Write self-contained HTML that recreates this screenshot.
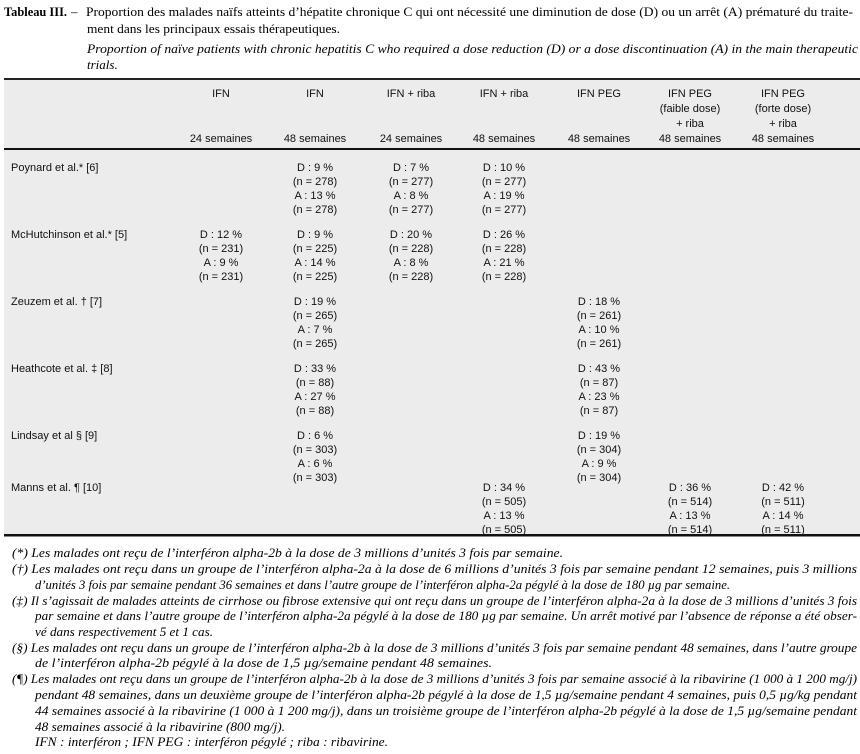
<!DOCTYPE html>
<html><head><meta charset="utf-8"><style>
html,body{margin:0;padding:0;background:#fff;}
svg{display:block;}
.t{font-family:"Liberation Serif",serif;font-size:13px;fill:#000;}
.i{font-family:"Liberation Serif",serif;font-style:italic;font-size:13px;fill:#000;}
.s{font-family:"Liberation Sans",sans-serif;font-size:11px;fill:#111;}
.c{text-anchor:middle;}
</style></head><body>
<svg width="860" height="754" viewBox="0 0 860 754" xmlns="http://www.w3.org/2000/svg">
<text class="t" x="4" y="16" font-weight="bold" textLength="63" lengthAdjust="spacingAndGlyphs">Tableau III.</text>
<text class="t" x="71" y="16">–</text>
<text class="t" x="86" y="16" textLength="767" lengthAdjust="spacingAndGlyphs">Proportion des malades naïfs atteints d’hépatite chronique C qui ont nécessité une diminution de dose (D) ou un arrêt (A) prématuré du traite-</text>
<text class="t" x="87" y="33" textLength="253" lengthAdjust="spacingAndGlyphs">ment dans les principaux essais thérapeutiques.</text>
<text class="i" x="87" y="53" textLength="771" lengthAdjust="spacingAndGlyphs">Proportion of naïve patients with chronic hepatitis C who required a dose reduction (D) or a dose discontinuation (A) in the main therapeutic</text>
<text class="i" x="87" y="69">trials.</text>

<rect x="4" y="80" width="856" height="456" fill="#ececec"/>
<rect x="4" y="78" width="856" height="2" fill="#222"/>
<rect x="4" y="148" width="856" height="2" fill="#111"/>
<rect x="4" y="534" width="856" height="2.5" fill="#111"/>

<g class="s c">
<text x="221" y="97">IFN</text><text x="221" y="142">24 semaines</text>
<text x="315" y="97">IFN</text><text x="315" y="142">48 semaines</text>
<text x="411" y="97">IFN + riba</text><text x="411" y="142">24 semaines</text>
<text x="504" y="97">IFN + riba</text><text x="504" y="142">48 semaines</text>
<text x="599" y="97">IFN PEG</text><text x="599" y="142">48 semaines</text>
<text x="690" y="97">IFN PEG</text><text x="690" y="112">(faible dose)</text><text x="690" y="127">+ riba</text><text x="690" y="142">48 semaines</text>
<text x="783" y="97">IFN PEG</text><text x="783" y="112">(forte dose)</text><text x="783" y="127">+ riba</text><text x="783" y="142">48 semaines</text>
</g>

<g class="s">
<text x="11" y="171">Poynard et al.* [6]</text>
<text x="11" y="238">McHutchinson et al.* [5]</text>
<text x="11" y="305">Zeuzem et al. † [7]</text>
<text x="11" y="372">Heathcote et al. ‡ [8]</text>
<text x="11" y="439">Lindsay et al § [9]</text>
<text x="11" y="491">Manns et al. ¶ [10]</text>
</g>

<g class="s c">
<text x="315" y="171">D : 9 %</text><text x="315" y="185">(n = 278)</text><text x="315" y="199">A : 13 %</text><text x="315" y="213">(n = 278)</text>
<text x="411" y="171">D : 7 %</text><text x="411" y="185">(n = 277)</text><text x="411" y="199">A : 8 %</text><text x="411" y="213">(n = 277)</text>
<text x="504" y="171">D : 10 %</text><text x="504" y="185">(n = 277)</text><text x="504" y="199">A : 19 %</text><text x="504" y="213">(n = 277)</text>
<text x="221" y="238">D : 12 %</text><text x="221" y="252">(n = 231)</text><text x="221" y="266">A : 9 %</text><text x="221" y="280">(n = 231)</text>
<text x="315" y="238">D : 9 %</text><text x="315" y="252">(n = 225)</text><text x="315" y="266">A : 14 %</text><text x="315" y="280">(n = 225)</text>
<text x="411" y="238">D : 20 %</text><text x="411" y="252">(n = 228)</text><text x="411" y="266">A : 8 %</text><text x="411" y="280">(n = 228)</text>
<text x="504" y="238">D : 26 %</text><text x="504" y="252">(n = 228)</text><text x="504" y="266">A : 21 %</text><text x="504" y="280">(n = 228)</text>
<text x="315" y="305">D : 19 %</text><text x="315" y="319">(n = 265)</text><text x="315" y="333">A : 7 %</text><text x="315" y="347">(n = 265)</text>
<text x="599" y="305">D : 18 %</text><text x="599" y="319">(n = 261)</text><text x="599" y="333">A : 10 %</text><text x="599" y="347">(n = 261)</text>
<text x="315" y="372">D : 33 %</text><text x="315" y="386">(n = 88)</text><text x="315" y="400">A : 27 %</text><text x="315" y="414">(n = 88)</text>
<text x="599" y="372">D : 43 %</text><text x="599" y="386">(n = 87)</text><text x="599" y="400">A : 23 %</text><text x="599" y="414">(n = 87)</text>
<text x="315" y="439">D : 6 %</text><text x="315" y="453">(n = 303)</text><text x="315" y="467">A : 6 %</text><text x="315" y="481">(n = 303)</text>
<text x="599" y="439">D : 19 %</text><text x="599" y="453">(n = 304)</text><text x="599" y="467">A : 9 %</text><text x="599" y="481">(n = 304)</text>
<text x="504" y="491">D : 34 %</text><text x="504" y="505">(n = 505)</text><text x="504" y="519">A : 13 %</text><text x="504" y="533">(n = 505)</text>
<text x="690" y="491">D : 36 %</text><text x="690" y="505">(n = 514)</text><text x="690" y="519">A : 13 %</text><text x="690" y="533">(n = 514)</text>
<text x="783" y="491">D : 42 %</text><text x="783" y="505">(n = 511)</text><text x="783" y="519">A : 14 %</text><text x="783" y="533">(n = 511)</text>
</g>

<g class="i">
<text x="12" y="557" textLength="551" lengthAdjust="spacingAndGlyphs">(*) Les malades ont reçu de l’interféron alpha-2b à la dose de 3 millions d’unités 3 fois par semaine.</text>
<text x="12" y="573" textLength="845" lengthAdjust="spacingAndGlyphs">(†) Les malades ont reçu dans un groupe de l’interféron alpha-2a à la dose de 6 millions d’unités 3 fois par semaine pendant 12 semaines, puis 3 millions</text>
<text x="35" y="589" textLength="695" lengthAdjust="spacingAndGlyphs">d’unités 3 fois par semaine pendant 36 semaines et dans l’autre groupe de l’interféron alpha-2a pégylé à la dose de 180 µg par semaine.</text>
<text x="12" y="605" textLength="845" lengthAdjust="spacingAndGlyphs">(‡) Il s’agissait de malades atteints de cirrhose ou fibrose extensive qui ont reçu dans un groupe de l’interféron alpha-2a à la dose de 3 millions d’unités 3 fois</text>
<text x="35" y="620" textLength="822" lengthAdjust="spacingAndGlyphs">par semaine et dans l’autre groupe de l’interféron alpha-2a pégylé à la dose de 180 µg par semaine. Un arrêt motivé par l’absence de réponse a été obser-</text>
<text x="35" y="636" textLength="178" lengthAdjust="spacingAndGlyphs">vé dans respectivement 5 et 1 cas.</text>
<text x="12" y="652" textLength="845" lengthAdjust="spacingAndGlyphs">(§) Les malades ont reçu dans un groupe de l’interféron alpha-2b à la dose de 3 millions d’unités 3 fois par semaine pendant 48 semaines, dans l’autre groupe</text>
<text x="35" y="667" textLength="457" lengthAdjust="spacingAndGlyphs">de l’interféron alpha-2b pégylé à la dose de 1,5 µg/semaine pendant 48 semaines.</text>
<text x="12" y="683" textLength="845" lengthAdjust="spacingAndGlyphs">(¶) Les malades ont reçu dans un groupe de l’interféron alpha-2b à la dose de 3 millions d’unités 3 fois par semaine associé à la ribavirine (1 000 à 1 200 mg/j)</text>
<text x="35" y="699" textLength="822" lengthAdjust="spacingAndGlyphs">pendant 48 semaines, dans un deuxième groupe de l’interféron alpha-2b pégylé à la dose de 1,5 µg/semaine pendant 4 semaines, puis 0,5 µg/kg pendant</text>
<text x="35" y="715" textLength="822" lengthAdjust="spacingAndGlyphs">44 semaines associé à la ribavirine (1 000 à 1 200 mg/j), dans un troisième groupe de l’interféron alpha-2b pégylé à la dose de 1,5 µg/semaine pendant</text>
<text x="35" y="731" textLength="250" lengthAdjust="spacingAndGlyphs">48 semaines associé à la ribavirine (800 mg/j).</text>
<text x="35" y="746" textLength="353" lengthAdjust="spacingAndGlyphs">IFN : interféron ; IFN PEG : interféron pégylé ; riba : ribavirine.</text>
</g>
</svg>
</body></html>
